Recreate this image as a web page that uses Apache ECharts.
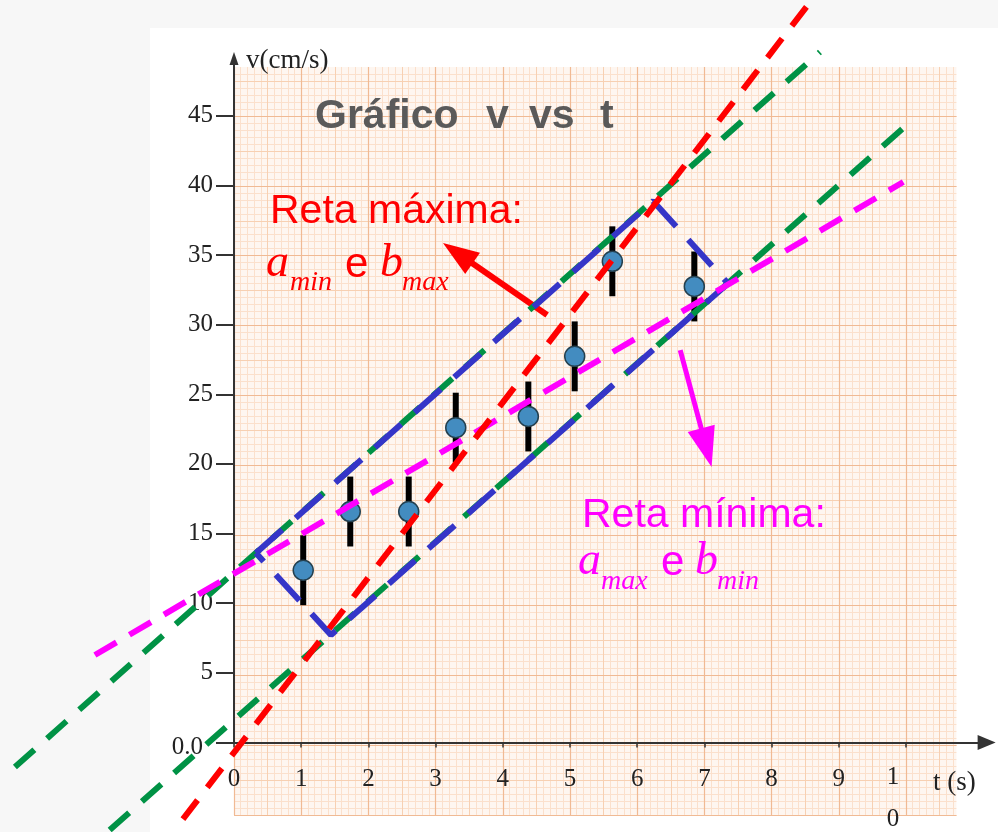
<!DOCTYPE html>
<html>
<head>
<meta charset="utf-8">
<script src="https://cdn.jsdelivr.net/npm/echarts@6/dist/echarts.min.js"></script>
<style>
  html, body { margin: 0; padding: 0; background: #f7f7f7; }
  #wrap { position: relative; width: 998px; height: 832px; overflow: hidden; }
  #panel { position: absolute; left: 150px; top: 28px; right: 0; bottom: 0; background: #ffffff; }
  #chart { position: absolute; left: 0; top: 0; width: 998px; height: 832px; }
</style>
</head>
<body>
<div id="wrap"><div id="panel"></div><div id="chart"></div></div>
<script>
// Tick labels of both axes
const tTicks = [0, 1, 2, 3, 4, 5, 6, 7, 8, 9, 10];
const vTicks = [0, 5, 10, 15, 20, 25, 30, 35, 40, 45];

// Measurements: time (s), speed (cm/s) and speed uncertainty (cm/s)
const tempos      = [1.03, 1.73, 2.60, 3.30, 4.38, 5.07, 5.63, 6.85];
const velocidades = [12.5, 16.7, 16.7, 22.7, 23.5, 27.8, 34.6, 32.8];
const incertezas  = [2.5, 2.5, 2.5, 2.5, 2.5, 2.5, 2.5, 2.5];

// Straight lines, each one given by two end points [t, v]
const retaMaxima       = [[-0.76, -5.3], [8.55, 53.0]];
const retaMinima       = [[-2.07, 6.44], [9.96, 40.27]];
const paralelaSuperior = [[-3.26, -1.57], [8.72, 49.57]];
const paralelaInferior = [[-1.85, -6.08], [10.13, 44.85]];
// Band that encloses all the error bars (closed outline)
const faixa = [[0.327, 13.73], [6.235, 38.91], [7.351, 33.02], [1.443, 7.87], [0.327, 13.73]];

// Annotation arrows: [tail, head]
const setaMaxima = [[4.66, 30.76], [3.33, 35.18]];
const setaMinima = [[6.64, 28.25], [7.03, 21.27]];

// ---- layout ----
const W = 998, H = 832;
const X0 = 234, Y0 = 745;          // origin on screen
const PX_T = 67.2, PX_V = 13.98;   // pixels per unit
const T_END = 11.2, V_END = 49.1;  // ends of the drawn axes
const PAPER_T = [0, 10.75], PAPER_V = [-5, 48.5];

const SANS = "'Liberation Sans', Arial, sans-serif";
const SERIF = "'Liberation Serif', 'Times New Roman', serif";

// grid 0: graph paper, grid 1: drawn axes, grid 2: whole canvas, same scale, for the marks
const grids = [
  {
    left: X0, top: Y0 - PAPER_V[1] * PX_V,
    width: (PAPER_T[1] - PAPER_T[0]) * PX_T, height: (PAPER_V[1] - PAPER_V[0]) * PX_V,
    show: true, backgroundColor: '#fef6f0', borderWidth: 0
  },
  { left: X0, top: Y0 - V_END * PX_V, width: T_END * PX_T, height: V_END * PX_V, show: false },
  { left: 0, top: 0, width: W, height: H, show: false }
];

function paperAxis(range, interval, color, width, z) {
  return {
    gridIndex: 0, type: 'value', min: range[0], max: range[1], interval: interval, z: z,
    axisLine: { show: false }, axisTick: { show: false }, axisLabel: { show: false },
    splitLine: { show: true, showMinLine: true, showMaxLine: false, lineStyle: { color: color, width: width } }
  };
}
function hiddenAxis(min, max) {
  return {
    gridIndex: 2, type: 'value', min: min, max: max, show: false,
    axisLine: { show: false }, axisTick: { show: false }, axisLabel: { show: false }, splitLine: { show: false }
  };
}

const axisColor = '#333333';
const labelStyle = { fontFamily: SERIF, fontSize: 25, color: '#222' };

const xAxes = [
  paperAxis(PAPER_T, 0.1, '#fbe0cc', 1, 0),
  paperAxis(PAPER_T, 0.5, '#f7d0b2', 1, 1),
  paperAxis(PAPER_T, 1, '#f0ba94', 1.2, 2),
  {
    gridIndex: 1, type: 'value', min: 0, max: T_END, z: 3,
    axisLine: { show: true, symbol: ['none', 'triangle'], symbolSize: [15, 18],
      lineStyle: { color: axisColor, width: 2 } },
    axisTick: { show: true, customValues: tTicks, length: 5, lineStyle: { color: axisColor, width: 1.5 } },
    axisLabel: Object.assign({
      show: true, customValues: tTicks, margin: 24,
      formatter: v => v === 10 ? '{a|1}\n{b|0}' : String(v),
      rich: {
        a: Object.assign({ lineHeight: 22, padding: [0, 26, 0, 0] }, labelStyle),
        b: Object.assign({ lineHeight: 62, padding: [0, 26, 0, 0] }, labelStyle)
      }
    }, labelStyle),
    splitLine: { show: false }
  },
  hiddenAxis(-X0 / PX_T, (W - X0) / PX_T)
];

const yAxes = [
  paperAxis(PAPER_V, 0.5, '#fbe0cc', 1, 0),
  paperAxis(PAPER_V, 2.5, '#f7d0b2', 1, 1),
  paperAxis(PAPER_V, 5, '#f0ba94', 1.2, 2),
  {
    gridIndex: 1, type: 'value', min: 0, max: V_END, z: 3,
    axisLine: { show: true, symbol: ['none', 'triangle'], symbolSize: [9, 13],
      lineStyle: { color: axisColor, width: 2 } },
    axisTick: { show: true, customValues: vTicks, length: 18, lineStyle: { color: axisColor, width: 2 } },
    axisLabel: Object.assign({
      show: true, customValues: vTicks, margin: 21,
      formatter: v => v === 0 ? '{z|0.0}' : String(v),
      rich: { z: Object.assign({ padding: [10, 10, 0, 0] }, labelStyle) }
    }, labelStyle),
    splitLine: { show: false }
  },
  hiddenAxis(-(H - Y0) / PX_V, Y0 / PX_V)
];

const MARK_AXIS = 4;

function dashed(name, data, color, dash, z) {
  return {
    name: name, type: 'line', xAxisIndex: MARK_AXIS, yAxisIndex: MARK_AXIS, data: data,
    clip: false, symbol: 'none', silent: true, z: z,
    lineStyle: { color: color, width: 6, type: dash, cap: 'butt' }
  };
}

function arrow(seta, color, size, width) {
  return {
    silent: true, symbol: ['none', 'triangle'], symbolSize: size, precision: 4,
    label: { show: false },
    lineStyle: { color: color, width: width, type: 'solid' },
    data: [[{ coord: seta[0] }, { coord: seta[1] }]]
  };
}

function txt(text, x, y, size, color, family, extra) {
  return {
    type: 'text', x: x, y: y, z: 100, silent: true,
    style: Object.assign({
      text: text, fill: color, fontSize: size, fontFamily: family,
      align: 'left', verticalAlign: 'middle'
    }, extra || {})
  };
}
const it = { fontStyle: 'italic' };
const bold = { fontWeight: 'bold' };
const RED = '#ff0000', MAG = '#ff00ff', GREY = '#5a5a5a';

const red = dashed('Reta máxima', retaMaxima, RED, [24, 16], 9);
red.markLine = arrow(setaMaxima, RED, [26, 36], 6);
const mag = dashed('Reta mínima', retaMinima, MAG, [25, 15], 8);
mag.markLine = arrow(setaMinima, MAG, [28, 40], 5);

const option = {
  animation: false,
  backgroundColor: 'transparent',
  grid: grids,
  xAxis: xAxes,
  yAxis: yAxes,
  series: [
    {
      name: 'incerteza', type: 'custom', xAxisIndex: MARK_AXIS, yAxisIndex: MARK_AXIS, z: 4, silent: true,
      data: tempos.map((t, i) => [t, velocidades[i] - incertezas[i], velocidades[i] + incertezas[i]]),
      renderItem: function (params, api) {
        const lo = api.coord([api.value(0), api.value(1)]);
        const hi = api.coord([api.value(0), api.value(2)]);
        return { type: 'line', shape: { x1: lo[0], y1: lo[1], x2: hi[0], y2: hi[1] },
          style: { stroke: '#000', lineWidth: 6 } };
      }
    },
    {
      name: 'medidas', type: 'scatter', xAxisIndex: MARK_AXIS, yAxisIndex: MARK_AXIS, z: 5, silent: true,
      symbolSize: 20,
      itemStyle: { color: '#438cc0', borderColor: '#24404f', borderWidth: 1.5, opacity: 1 },
      data: tempos.map((t, i) => [t, velocidades[i]])
    },
    dashed('paralela superior', paralelaSuperior, '#009245', [26, 17], 6),
    dashed('paralela inferior', paralelaInferior, '#009245', [26, 17], 6),
    dashed('faixa', faixa, '#3535c8', [35, 18], 7),
    mag,
    red
  ],
  graphic: [
    txt('Gráfico', 315, 117, 41, GREY, SANS, bold),
    txt('v', 486, 117, 41, GREY, SANS, bold),
    txt('vs', 529, 117, 41, GREY, SANS, bold),
    txt('t', 600, 117, 41, GREY, SANS, bold),
    txt('v(cm/s)', 246, 61, 27, '#222', SERIF),
    txt('t (s)', 933, 783, 27, '#222', SERIF),

    txt('Reta máxima:', 270, 212, 41, RED, SANS),
    txt('a', 266, 264, 46, RED, SERIF, it),
    txt('min', 290, 283, 28, RED, SERIF, it),
    txt('e', 345, 265, 42, RED, SANS),
    txt('b', 380, 264, 46, RED, SERIF, it),
    txt('max', 402, 283, 28, RED, SERIF, it),

    txt('Reta mínima:', 582, 516, 41, MAG, SANS),
    txt('a', 578, 562, 46, MAG, SERIF, it),
    txt('max', 601, 582, 28, MAG, SERIF, it),
    txt('e', 661, 563, 42, MAG, SANS),
    txt('b', 695, 562, 46, MAG, SERIF, it),
    txt('min', 717, 582, 28, MAG, SERIF, it)
  ]
};

const chart = echarts.init(document.getElementById('chart'), null, { renderer: 'canvas', width: W, height: H });
chart.setOption(option);
</script>
</body>
</html>
